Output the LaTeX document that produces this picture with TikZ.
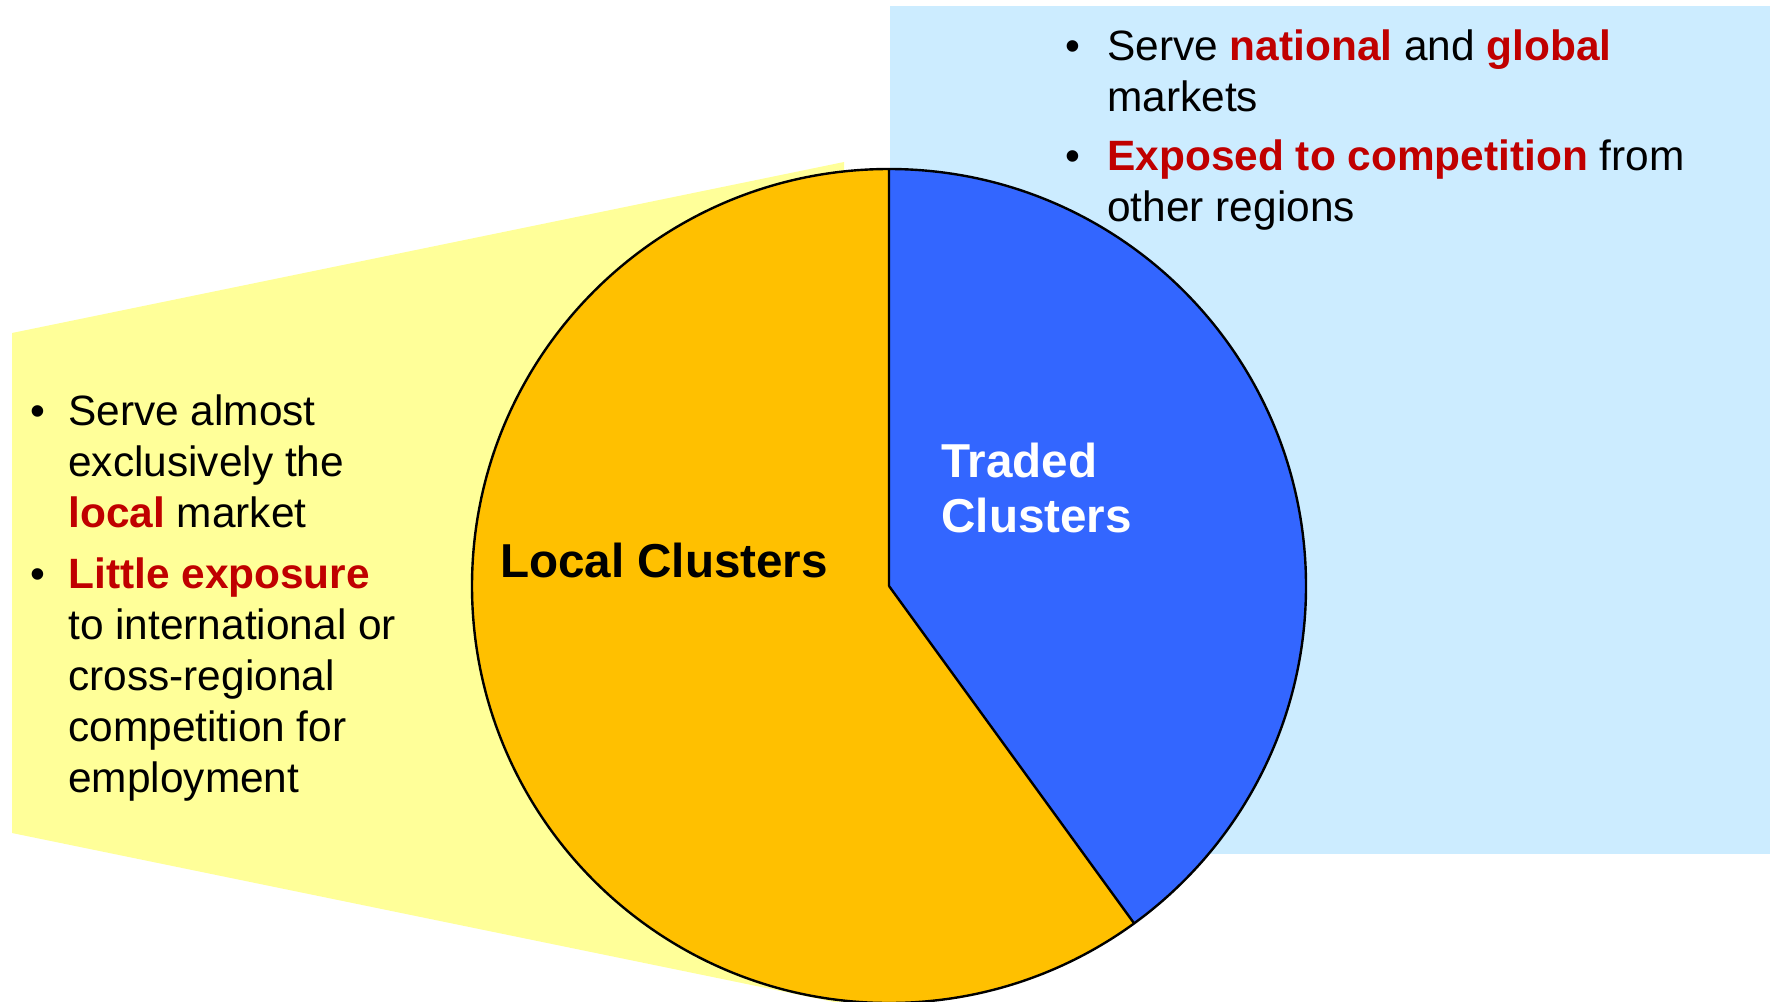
\documentclass[tikz,border=0pt]{standalone}
\usepackage{fontspec}
\setmainfont{Liberation Sans}
\definecolor{skyback}{RGB}{204,236,255}
\definecolor{paleyellow}{RGB}{255,255,153}
\definecolor{localorange}{RGB}{255,192,0}
\definecolor{tradedblue}{RGB}{51,102,255}
\definecolor{keyred}{RGB}{192,0,0}
\newcommand{\keyword}[1]{\textcolor{keyred}{\bfseries #1}}
\begin{document}
\begin{tikzpicture}[x=0.5pt,y=-0.5pt,
  txt/.style={anchor=base west,inner sep=0pt,align=left,font=\fontsize{21.2}{25.5}\selectfont},
  dot/.style={anchor=base,inner sep=0pt,font=\fontsize{21.2}{25.5}\selectfont},
  slicetext/.style={inner sep=0pt,font=\fontsize{23.8}{27.5}\selectfont\bfseries}]
\useasboundingbox (0,0) rectangle (1770,1001);
% backgrounds
\fill[skyback] (890,6) rectangle (1770,854);
\fill[paleyellow] (12,333) -- (844,162) -- (844,1004) -- (12,833) -- cycle;
% pie
\coordinate (c) at (889,586);
\fill[localorange] (c) -- ++(54:417) arc (54:270:417) -- cycle;
\fill[tradedblue] (c) -- ++(-90:417) arc (-90:54:417) -- cycle;
\draw[line width=1.2pt,line join=round] (c) circle (417)
      (c) -- ++(-90:417) (c) -- ++(54:417);
% left hand (base = last line)
\node[dot] (lb1) at (38,425) {•};
\node[txt] (lt1) at (68,527) {Serve almost\\exclusively the\\\keyword{local} market};
\node[dot] (lb2) at (38,588) {•};
\node[txt] (lt2) at (68,792) {\keyword{Little exposure}\\to international or\\cross-regional\\competition for\\employment};
% right hand
\node[dot] (rb1) at (1073,60) {•};
\node[txt] (rt1) at (1107,111) {Serve \keyword{national} and \keyword{global}\\markets};
\node[dot] (rb2) at (1073,170) {•};
\node[txt] (rt2) at (1107,221) {\keyword{Exposed to competition} from\\other regions};
% slices
\node[slicetext,anchor=base] (local) at (664,577) {Local Clusters};
\node[slicetext,anchor=base west,align=left,text=white] (traded) at (941,532) {Traded\\Clusters};
\end{tikzpicture}
\end{document}
